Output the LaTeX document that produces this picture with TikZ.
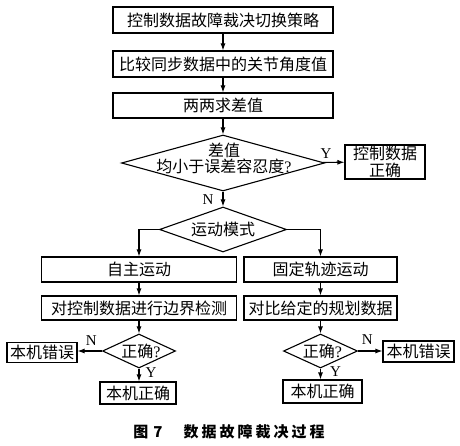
\documentclass[tikz,border=0pt]{standalone}
\usepackage{fontspec}
\setmainfont{Liberation Serif}
\newfontfamily\cjk{Noto Sans CJK SC}
\usetikzlibrary{shapes.geometric,arrows.meta}

\begin{document}
\begin{tikzpicture}[x=1pt, y=-1pt,
                    >={Latex[length=7pt,width=5pt]},
                    line width=1.1pt,
                    block/.style={draw, rectangle, align=center, inner sep=0pt, font=\fontsize{16pt}{17pt}\selectfont\cjk},
                    dec/.style={draw, diamond, inner sep=0pt},
                    dtext/.style={align=center, inner sep=0pt, font=\fontsize{16pt}{16pt}\selectfont\cjk},
                    yn/.style={inner sep=0pt, font=\fontsize{15pt}{15pt}\selectfont}]

\useasboundingbox (0,0) rectangle (460,446);

\node [block, minimum width=220pt, minimum height=26pt] (strat) at (223,20) {控制数据故障裁决切换策略};
\node [block, minimum width=220pt, minimum height=26pt] (comp) at (223,64) {比较同步数据中的关节角度值};
\node [block, minimum width=220pt, minimum height=25pt] (diff) at (223,105.5) {两两求差值};

\node [dec, minimum width=203pt, minimum height=56pt] (tol) at (223,163) {};
\node [dtext] (toltext) at (224,158) {差值\\均小于误差容忍度{\rmfamily ?}};
\node [block, minimum width=80pt, minimum height=34pt] (ok) at (385,162) {控制数据\\正确};

\node [dec, minimum width=127pt, minimum height=45pt] (mode) at (223,229.5) {};
\node [dtext] (modetext) at (mode) {运动模式};

\node [block, minimum width=195pt, minimum height=25pt] (auto) at (139,269.5) {自主运动};
\node [block, minimum width=153pt, minimum height=25pt] (fixed) at (320.5,269.5) {固定轨迹运动};
\node [block, minimum width=195pt, minimum height=24pt] (bound) at (139,308) {对控制数据进行边界检测};
\node [block, minimum width=153pt, minimum height=24pt] (plan) at (320.5,308) {对比给定的规划数据};

\node [dec, minimum width=73pt, minimum height=34pt] (chkl) at (139,351) {};
\node [dtext] (chkltext) at (141,351) {正确{\rmfamily ?}};
\node [dec, minimum width=74pt, minimum height=34pt] (chkr) at (320.5,351) {};
\node [dtext] (chkrtext) at (322.5,351) {正确{\rmfamily ?}};

\node [block, minimum width=70pt, minimum height=20pt] (errl) at (42,352.5) {本机错误};
\node [block, minimum width=71pt, minimum height=21pt] (errr) at (418.5,351.5) {本机错误};
\node [block, minimum width=76pt, minimum height=22pt] (corl) at (138,393) {本机正确};
\node [block, minimum width=79pt, minimum height=23pt] (corr) at (322.5,391.5) {本机正确};

\node [font=\fontsize{15pt}{15pt}\selectfont\cjk\bfseries] (caption) at (229,432)
  {图\hspace{5pt}7\hspace{21pt}数\hspace{3pt}据\hspace{3pt}故\hspace{3pt}障\hspace{3pt}裁\hspace{3pt}决\hspace{3pt}过\hspace{3pt}程};

\draw [->] (strat) -- (comp);
\draw [->] (comp) -- (diff);
\draw [->] (diff) -- (tol);
\draw [->] (tol) -- node[yn, above=3pt, pos=0.15] {Y} (ok);
\draw [->] (tol) -- node[yn, left=9pt, pos=0.55] {N} (mode);
\draw [->] (mode.west) -| (auto.north);
\draw [->] (mode.east) -| (fixed.north);
\draw [->] (auto) -- (bound);
\draw [->] (fixed) -- (plan);
\draw [->] (bound) -- (chkl);
\draw [->] (plan) -- (chkr);
\draw [->] (chkl.west) -- node[yn, above=5pt, pos=0.44] {N} (chkl.west -| errl.east);
\draw [->] (chkl.south) -- node[yn, right=6pt, pos=0.3] {Y} (chkl.south |- corl.north);
\draw [->] (chkr.east) -- node[yn, above=6pt, pos=0.38] {N} (chkr.east -| errr.west);
\draw [->] (chkr.south) -- node[yn, right=9pt, pos=0.3] {Y} (chkr.south |- corr.north);

\end{tikzpicture}
\end{document}
